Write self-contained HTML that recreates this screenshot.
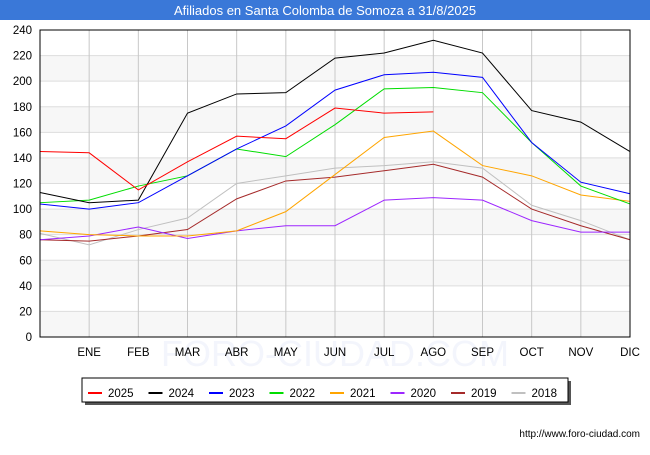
<!DOCTYPE html>
<html><head><meta charset="utf-8"><style>
body{margin:0;background:#fff;font-family:"Liberation Sans",sans-serif;}
svg text{font-family:"Liberation Sans",sans-serif;}
</style></head><body>
<svg width="650" height="450">
<rect x="0" y="0" width="650" height="20" fill="#3a78d8"/>
<text x="325" y="15" text-anchor="middle" fill="#fff" font-size="13">Afiliados en Santa Colomba de Somoza a 31/8/2025</text>
<g id="grid"></g>
<g id="series"></g>
<rect x="40" y="30" width="590" height="307" fill="none" stroke="#000"/>
<g id="legend"></g>
<text x="640" y="437" text-anchor="end" font-size="10" fill="#000">http://www.foro-ciudad.com</text>
</svg>
<script>
const months=["ENE","FEB","MAR","ABR","MAY","JUN","JUL","AGO","SEP","OCT","NOV","DIC"];
const yTicks=[0,20,40,60,80,100,120,140,160,180,200,220,240];
const seriesNames=["2025","2024","2023","2022","2021","2020","2019","2018"];
const seriesColors=["#ff0000","#000000","#0000ff","#00dd00","#ffa500","#9d26ff","#a52a2a","#c0c0c0"];
const s2025=[145,144,115,137,157,155,179,175,176];
const s2024=[113,105,107,175,190,191,218,222,232,222,177,168,145];
const s2023=[104,100,105,126,147,165,193,205,207,203,152,121,112];
const s2022=[105,107,118,126,147,141,166,194,195,191,152,118,104];
const s2021=[83,80,79,79,83,98,127,156,161,134,126,111,106];
const s2020=[76,79,86,77,83,87,87,107,109,107,91,82,82];
const s2019=[76,75,79,84,108,122,125,130,135,125,100,87,76];
const s2018=[81,72,84,93,120,126,132,134,137,132,103,91,76];
const allSeries=[s2025,s2024,s2023,s2022,s2021,s2020,s2019,s2018];
const NS="http://www.w3.org/2000/svg";
const X0=40,X1=630,Y0=337,Y1=30;
const xs=i=>X0+i*(X1-X0)/12;
const ys=v=>Y0-v*(Y0-Y1)/240;
const grid=document.getElementById('grid');
function mk(t,a,p){const e=document.createElementNS(NS,t);for(const k in a)e.setAttribute(k,a[k]);p.appendChild(e);return e;}
for(let i=0;i<yTicks.length-1;i++){
 if(i%2==0){const r=mk('rect',{x:X0,y:ys(yTicks[i+1]),width:X1-X0,height:ys(yTicks[i])-ys(yTicks[i+1]),fill:'#f7f7f7'},grid);
 
 }
}
const wm=mk('text',{x:335,y:366,'text-anchor':'middle','font-size':'36',fill:'#f3f5fc'},grid);wm.textContent='FORO-CIUDAD.COM';


yTicks.forEach(v=>{
 const l=mk('line',{x1:X0,x2:X1,y1:ys(v),y2:ys(v),stroke:'#dddddd'},grid);
 
 
 const t=mk('text',{x:X0-8,y:ys(v)+4,'text-anchor':'end','font-size':'11.5'},grid);t.textContent=v;
 
 
});
months.forEach((m,i)=>{
 const x=xs(i+1);
 if(i<11){const l=mk('line',{x1:x,x2:x,y1:Y1,y2:Y0,stroke:'#c8c8c8'},grid);
 
 }
 const t=mk('text',{x:x,y:356,'text-anchor':'middle','font-size':'11.5'},grid);t.textContent=m;
 
 
});
const sg=document.getElementById('series');
for(let k=allSeries.length-1;k>=0;k--){
 const pts=allSeries[k].map((v,i)=>xs(i)+','+ys(v)).join(' ');
 const p=mk('polyline',{points:pts,fill:'none',stroke:seriesColors[k],'stroke-width':1},sg);
 
 
}
const lg=document.getElementById('legend');
const sh=mk('rect',{x:85,y:381,width:486,height:24,fill:'#555'},lg);


const bx=mk('rect',{x:82,y:378,width:486,height:24,fill:'#fff',stroke:'#000'},lg);


seriesNames.forEach((n,k)=>{
 const x=88+k*60.5;
 const l=mk('line',{x1:x,x2:x+14,y1:393,y2:393,stroke:seriesColors[k],'stroke-width':2},lg);
 
 
 const t=mk('text',{x:x+20,y:397,'font-size':'11.5'},lg);t.textContent=n;
 
 
});
</script>
</body></html>
